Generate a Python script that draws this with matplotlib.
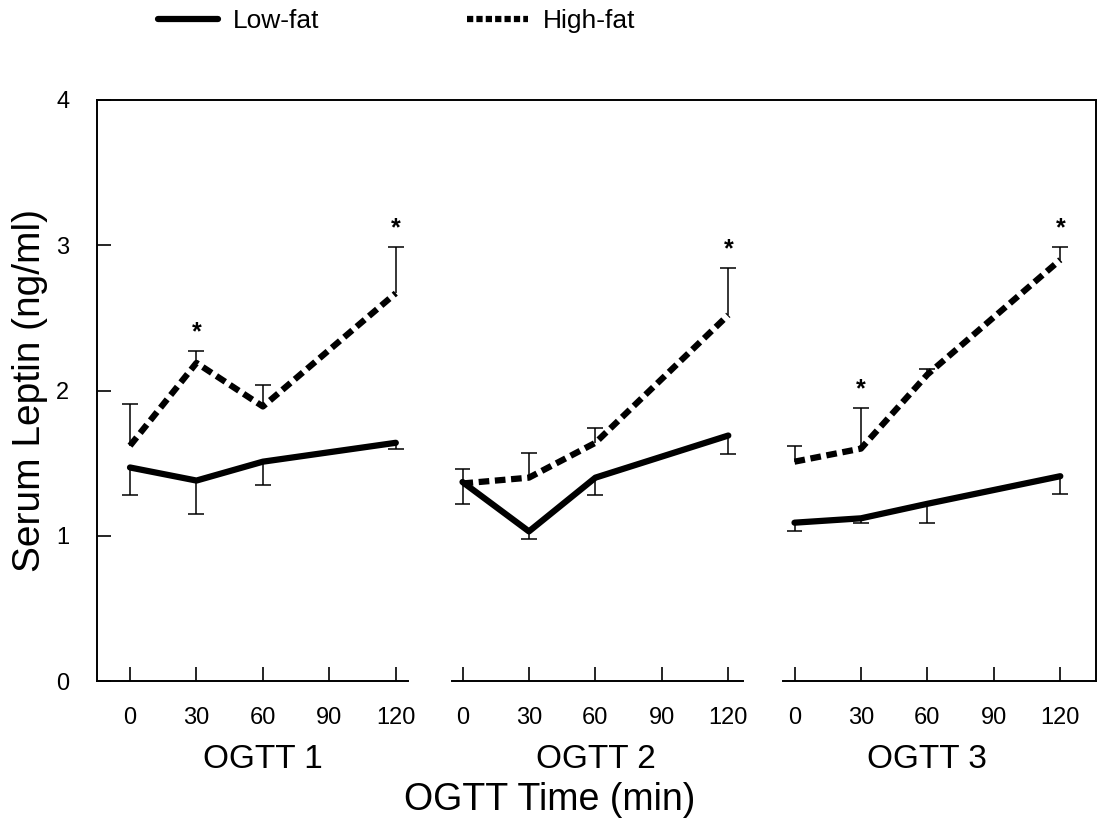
import numpy as np
import matplotlib
matplotlib.use('Agg')
import matplotlib.pyplot as plt
from matplotlib.lines import Line2D

plt.rcParams['font.family'] = ['Liberation Sans', 'DejaVu Sans']

# ---------------------------------- data -------------------------------------
times = [0, 30, 60, 120]
xticks = [0, 30, 60, 90, 120]
panels = ['OGTT 1', 'OGTT 2', 'OGTT 3']

low_fat = [[1.47, 1.38, 1.51, 1.64],
           [1.37, 1.03, 1.40, 1.69],
           [1.09, 1.12, 1.22, 1.41]]
low_err = [[0.19, 0.23, 0.16, 0.04],
           [0.15, 0.05, 0.12, 0.13],
           [0.06, 0.03, 0.13, 0.12]]

high_fat = [[1.62, 2.19, 1.89, 2.67],
            [1.36, 1.40, 1.64, 2.52],
            [1.51, 1.60, 2.11, 2.90]]
high_err = [[0.29, 0.08, 0.15, 0.32],
            [0.10, 0.17, 0.10, 0.32],
            [0.11, 0.28, 0.04, 0.09]]

# significant differences (high-fat vs low-fat), as time points
stars = [[30, 120], [120], [30, 120]]

# -----------------------------------------------------------------------------
W, H = 1097, 834
fig = plt.figure(figsize=(W / 100, H / 100), dpi=100)

y_bot, y_top = 681, 100          # pixel rows of y=0 and y=4
px_min = 2.215                   # pixels per minute
zero_px = [130, 462.5, 794.5]    # pixel column of t=0 in each panel
spans = [(97, 408), (452, 743), (783, 1096)]

bottom = 1 - y_bot / H
height = (y_bot - y_top) / H

# frame: left, top and right lines + y axis
frame = fig.add_axes([97 / W, bottom, (1096 - 97) / W, height])
frame.set_ylim(0, 4)
frame.set_xticks([])
frame.set_yticks([0, 1, 2, 3, 4])
frame.spines['bottom'].set_visible(False)
for s in ['left', 'top', 'right']:
    frame.spines[s].set_linewidth(1.4)
frame.tick_params(axis='y', direction='in', length=10, width=1.2, pad=20,
                  labelsize=17)
frame.set_ylabel('Serum Leptin (ng/ml)', fontsize=28, labelpad=6)
frame.patch.set_alpha(0)


def one_sided_err(ax, t, y, err, sign):
    # vertical stem + single cap at the far end
    t = np.array(t)
    end = y + sign * np.array(err)
    cap = 3.6
    ax.vlines(t, y, end, color='black', lw=1.1, clip_on=False)
    ax.hlines(end, t - cap, t + cap, color='black', lw=1.1, clip_on=False)


lw = 4.5
for k in range(3):
    x0, x1 = spans[k]
    ax = fig.add_axes([x0 / W, bottom, (x1 - x0) / W, height])
    ax.set_xlim((x0 - zero_px[k]) / px_min, (x1 - zero_px[k]) / px_min)
    ax.set_ylim(0, 4)
    ax.patch.set_alpha(0)
    for s in ['left', 'top', 'right']:
        ax.spines[s].set_visible(False)
    ax.spines['bottom'].set_linewidth(1.4)
    ax.set_yticks([])
    ax.set_xticks(xticks)
    ax.tick_params(axis='x', direction='in', length=10, width=1.2, pad=19,
                   labelsize=17)
    ax.text(60, -0.54, panels[k], ha='center', va='center', fontsize=24,
            transform=ax.transData)

    lo = np.array(low_fat[k])
    hi = np.array(high_fat[k])

    # error bars: low-fat downwards, high-fat upwards
    one_sided_err(ax, times, lo, low_err[k], -1)
    one_sided_err(ax, times, hi, high_err[k], +1)

    ax.plot(times, lo, color='black', lw=lw, solid_capstyle='round',
            solid_joinstyle='round', clip_on=False)
    ax.plot(times, hi, color='black', lw=lw, dashes=(1.7, 0.9),
            dash_capstyle='butt', clip_on=False)

    for t in stars[k]:
        i = times.index(t)
        ax.text(t, hi[i] + high_err[k][i] + 0.13, '*', ha='center', va='center',
                fontsize=18, fontweight='bold')

fig.text(550 / W, 1 - 800 / H, 'OGTT Time (min)', ha='center', va='center',
         fontsize=27)

# legend on top
handles = [Line2D([], [], color='black', lw=lw, solid_capstyle='round'),
           Line2D([], [], color='black', lw=lw, dashes=(1.0, 0.5))]
fig.legend(handles, ['Low-fat', 'High-fat'], loc='upper left',
           bbox_to_anchor=(134 / W, 1 + 15 / H), ncol=2, frameon=False,
           fontsize=19, handlelength=2.3, handletextpad=0.55,
           columnspacing=5.6)

fig.savefig('out.png', dpi=100)
